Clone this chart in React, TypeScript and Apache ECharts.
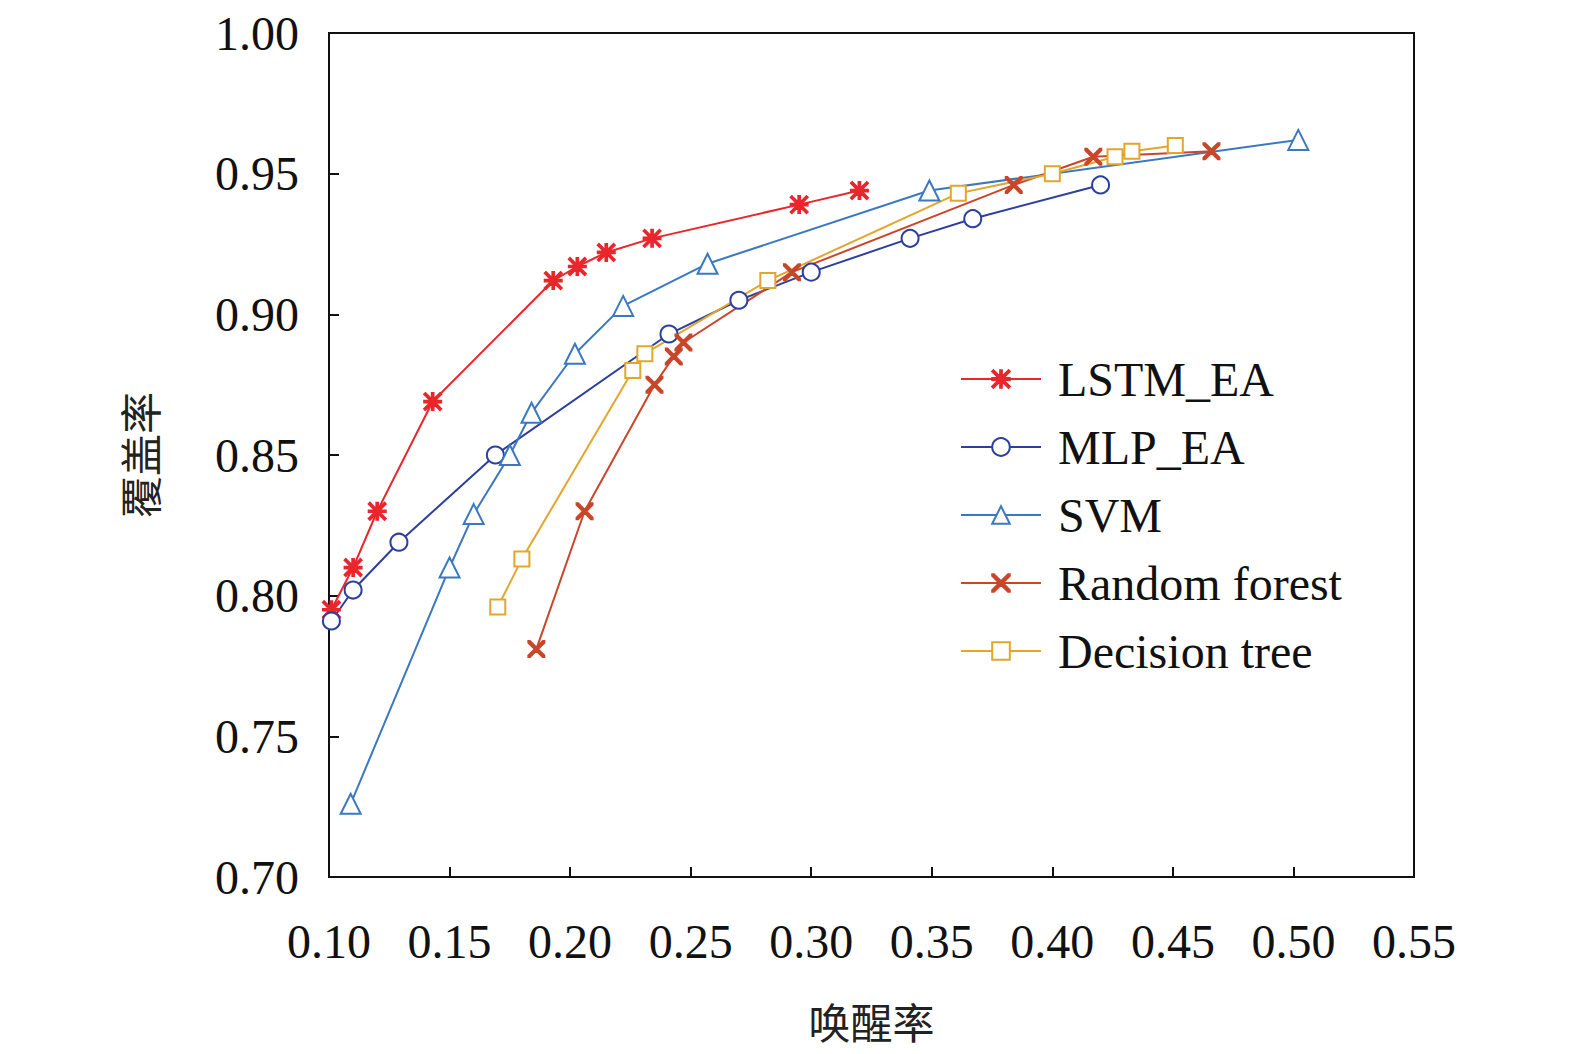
import { useEffect, useRef } from "react";
import * as echarts from "echarts";

const lstmEA = [[0.101, 0.795], [0.11, 0.81], [0.12, 0.83], [0.143, 0.869], [0.193, 0.912], [0.203, 0.917], [0.215, 0.922], [0.234, 0.927], [0.295, 0.939], [0.32, 0.944]];
const mlpEA = [[0.101, 0.791], [0.11, 0.802], [0.129, 0.819], [0.169, 0.85], [0.241, 0.893], [0.27, 0.905], [0.3, 0.915], [0.341, 0.927], [0.367, 0.934], [0.42, 0.946]];
const svm = [[0.109, 0.726], [0.15, 0.81], [0.16, 0.829], [0.175, 0.85], [0.184, 0.865], [0.202, 0.886], [0.222, 0.903], [0.257, 0.918], [0.349, 0.944], [0.502, 0.962]];
const randomForest = [[0.186, 0.781], [0.206, 0.83], [0.235, 0.875], [0.243, 0.885], [0.247, 0.89], [0.292, 0.915], [0.384, 0.946], [0.417, 0.956], [0.466, 0.958]];
const decisionTree = [[0.17, 0.796], [0.18, 0.813], [0.226, 0.88], [0.231, 0.886], [0.282, 0.912], [0.361, 0.943], [0.4, 0.95], [0.426, 0.956], [0.433, 0.958], [0.451, 0.96]];

const star = "path://M9,0H11V20H9Z M0,9H20V11H0Z M1.4,0L20,18.6L18.6,20L0,1.4Z M18.6,0L20,1.4L1.4,20L0,18.6Z";
const cross = "path://M0,0L2,0L10,8L18,0L20,0L20,2L12,10L20,18L20,20L18,20L10,12L2,20L0,20L0,18L8,10L0,2Z";

const font = "'Liberation Serif', 'Times New Roman', serif";
const cjk = "'Noto Sans CJK SC', sans-serif";

export default function App() {
  const ref = useRef<HTMLDivElement>(null);
  useEffect(() => {
    if (!ref.current) return;
    const chart = echarts.init(ref.current, null, { renderer: "svg" });
    const mk = (name: string, data: number[][], color: string, symbol: string, size: number) => ({
      name, type: "line", data, symbol, symbolSize: size,
      lineStyle: { color, width: 2 },
      itemStyle: { color, borderColor: color, borderWidth: 2 },
    });
    chart.setOption({
      animation: false,
      backgroundColor: "#fff",
      grid: { left: 329, right: 161, top: 33, bottom: 177, show: true, borderColor: "#111", borderWidth: 2 },
      legend: {
        orient: "vertical", left: 955, top: 350, itemWidth: 80, itemHeight: 22, itemGap: 20,
        textStyle: { fontFamily: font, fontSize: 48, color: "#111", padding: [0, 0, 0, 12] },
      },
      xAxis: {
        type: "value", min: 0.1, max: 0.55, interval: 0.05,
        name: "唤醒率", nameLocation: "middle", nameGap: 122,
        nameTextStyle: { fontFamily: cjk, fontSize: 42, color: "#222" },
        axisLine: { lineStyle: { color: "#111", width: 2 } },
        axisTick: { inside: true, length: 10, lineStyle: { color: "#111", width: 2 } },
        axisLabel: { fontFamily: font, fontSize: 48, color: "#111", margin: 40, formatter: (v: number) => v.toFixed(2) },
        splitLine: { show: false },
      },
      yAxis: {
        type: "value", min: 0.7, max: 1.0, interval: 0.05,
        name: "覆盖率", nameLocation: "middle", nameGap: 170, nameRotate: 90,
        nameTextStyle: { fontFamily: cjk, fontSize: 42, color: "#222" },
        axisLine: { lineStyle: { color: "#111", width: 2 } },
        axisTick: { inside: true, length: 10, lineStyle: { color: "#111", width: 2 } },
        axisLabel: { fontFamily: font, fontSize: 48, color: "#111", margin: 30, formatter: (v: number) => v.toFixed(2) },
        splitLine: { show: false },
      },
      series: [
        mk("LSTM_EA", lstmEA, "#e8262b", star, 17),
        mk("MLP_EA", mlpEA, "#2b3f9e", "emptyCircle", 17),
        mk("SVM", svm, "#3b78c2", "emptyTriangle", 20),
        mk("Random forest", randomForest, "#c8462a", cross, 16),
        mk("Decision tree", decisionTree, "#e3a52a", "emptyRect", 15),
      ],
    });
    return () => chart.dispose();
  }, []);
  return <div ref={ref} style={{ position: "absolute", left: 0, top: 0, width: 1575, height: 1054 }} />;
}
